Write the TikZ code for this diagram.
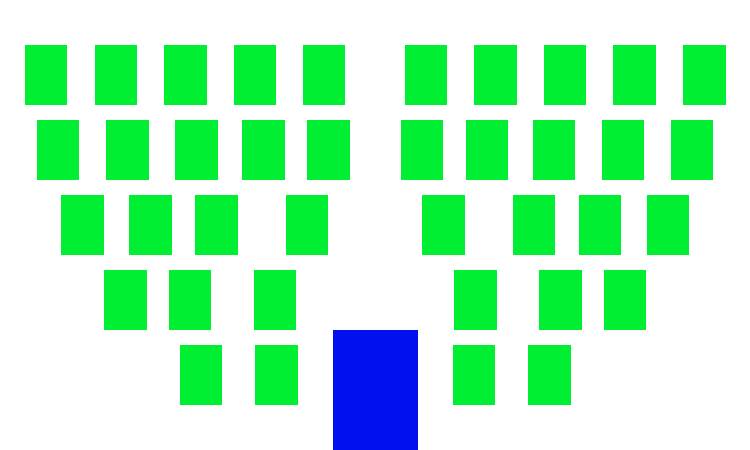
\documentclass[tikz,border=0pt]{standalone}
\definecolor{seatgreen}{RGB}{0,239,51}
\definecolor{seatblue}{RGB}{0,16,238}
\begin{document}
\begin{tikzpicture}[x=1pt,y=-1pt,
  seat/.style={rectangle,fill=seatgreen,draw=none,inner sep=0pt,minimum width=42.3pt,minimum height=60pt,anchor=north west},
  chair/.style={rectangle,fill=seatblue,draw=none,inner sep=0pt,minimum width=84.6pt,minimum height=120.7pt,anchor=north west}]
\useasboundingbox (0,0) rectangle (750,450);
% row 1
\foreach \x [count=\i] in {24.3,94.3,164,233.7,302.5,404.8,474,543.3,613,683.2}
  \node[seat] (r1s\i) at (\x,44.8) {};
% row 2
\foreach \x [count=\i] in {36.7,106,175,242,307,400.3,465.3,532.7,601.3,670.7}
  \node[seat] (r2s\i) at (\x,119.8) {};
% row 3
\foreach \x [count=\i] in {61,129,195,285.7,422,512.7,578.3,646.7}
  \node[seat] (r3s\i) at (\x,194.8) {};
% row 4
\foreach \x [count=\i] in {104,168.3,253.3,454.2,539.2,603.7}
  \node[seat] (r4s\i) at (\x,269.8) {};
% row 5
\foreach \x [count=\i] in {179.7,255,452.3,528}
  \node[seat] (r5s\i) at (\x,344.8) {};
% speaker
\node[chair] (speaker) at (332.7,329.3) {};
\end{tikzpicture}
\end{document}
